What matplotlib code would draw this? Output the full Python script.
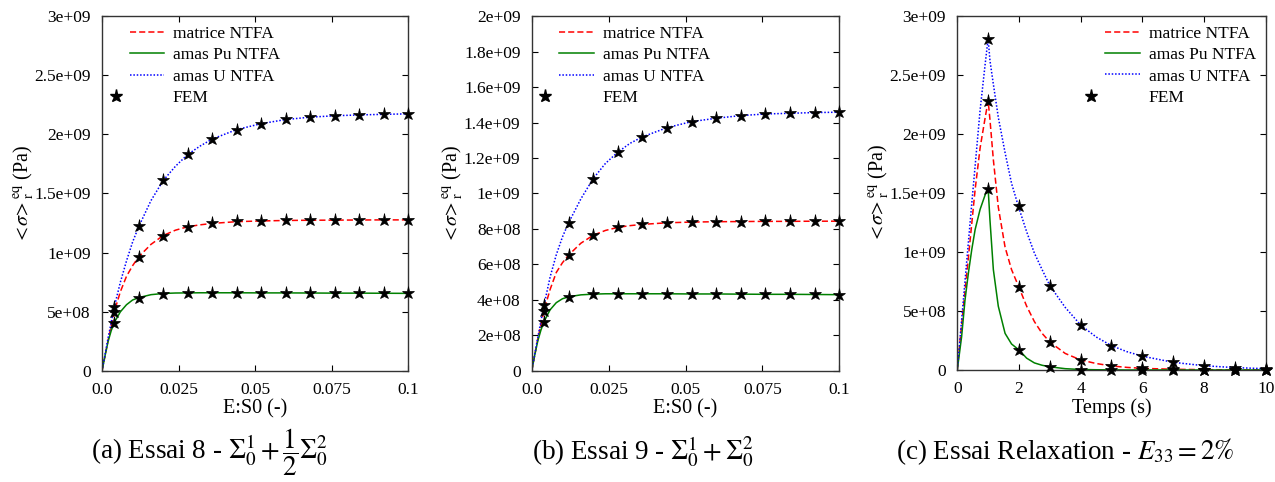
import numpy as np
import matplotlib
matplotlib.use("Agg")
import matplotlib.pyplot as plt
from matplotlib.ticker import FuncFormatter
from matplotlib.legend_handler import HandlerLine2D
from matplotlib.lines import Line2D

plt.rcParams['font.family'] = ['Liberation Serif', 'DejaVu Serif']
plt.rcParams['mathtext.fontset'] = 'stix'

# ---------------- data (values in 1e9 Pa) ----------------
x_line_ab = [0, 0.001, 0.002, 0.003, 0.004, 0.006, 0.008, 0.010, 0.012, 0.016, 0.020, 0.024,
             0.028, 0.032, 0.036, 0.044, 0.052, 0.060, 0.068, 0.076, 0.084, 0.092, 0.100]
x_fem_ab = [0.004, 0.012, 0.020, 0.028, 0.036, 0.044, 0.052, 0.060, 0.068, 0.076, 0.084, 0.092, 0.100]

# Essai 8
a_matrice = [0, 0.13, 0.26, 0.38, 0.50, 0.67, 0.80, 0.89, 0.965, 1.07, 1.145, 1.19, 1.219, 1.235,
             1.247, 1.262, 1.268, 1.272, 1.274, 1.275, 1.276, 1.277, 1.277]
a_pu = [0, 0.13, 0.25, 0.34, 0.41, 0.50, 0.56, 0.60, 0.62, 0.645, 0.655, 0.659, 0.660, 0.661,
        0.661, 0.661, 0.660, 0.660, 0.659, 0.658, 0.658, 0.657, 0.656]
a_u = [0, 0.14, 0.28, 0.41, 0.54, 0.75, 0.93, 1.09, 1.22, 1.44, 1.61, 1.73, 1.83, 1.90, 1.96,
       2.04, 2.09, 2.125, 2.145, 2.157, 2.164, 2.169, 2.173]
a_fem_matrice = [0.50, 0.965, 1.145, 1.219, 1.247, 1.264, 1.270, 1.272, 1.275, 1.276, 1.276, 1.277, 1.277]
a_fem_pu = [0.408, 0.619, 0.653, 0.659, 0.660, 0.660, 0.660, 0.659, 0.659, 0.658, 0.658, 0.657, 0.656]
a_fem_u = [0.543, 1.224, 1.61, 1.832, 1.962, 2.04, 2.091, 2.128, 2.145, 2.156, 2.164, 2.17, 2.173]

# Essai 9
b_matrice = [0, 0.09, 0.18, 0.26, 0.34, 0.46, 0.555, 0.61, 0.653, 0.72, 0.765, 0.792, 0.809, 0.819,
             0.826, 0.835, 0.839, 0.841, 0.842, 0.843, 0.843, 0.844, 0.844]
b_pu = [0, 0.09, 0.17, 0.23, 0.278, 0.345, 0.385, 0.407, 0.418, 0.429, 0.433, 0.435, 0.435, 0.435,
        0.435, 0.435, 0.434, 0.434, 0.433, 0.432, 0.432, 0.431, 0.430]
b_u = [0, 0.095, 0.19, 0.28, 0.37, 0.53, 0.655, 0.755, 0.835, 0.97, 1.084, 1.17, 1.233, 1.283,
       1.319, 1.371, 1.405, 1.424, 1.439, 1.448, 1.452, 1.456, 1.458]
b_fem_matrice = [0.338, 0.653, 0.765, 0.809, 0.826, 0.835, 0.839, 0.841, 0.842, 0.843, 0.843, 0.844, 0.844]
b_fem_pu = [0.278, 0.418, 0.433, 0.435, 0.435, 0.435, 0.435, 0.434, 0.434, 0.433, 0.432, 0.431, 0.430]
b_fem_u = [0.371, 0.835, 1.084, 1.233, 1.319, 1.371, 1.405, 1.424, 1.439, 1.448, 1.452, 1.456, 1.458]

# Relaxation
t_line = [0, 0.14, 0.25, 0.36, 0.47, 0.58, 0.74, 0.9, 1.0, 1.06, 1.17, 1.33, 1.55, 1.76, 2.0,
          2.25, 2.5, 2.75, 3.0, 3.5, 4.0, 4.5, 5.0, 5.5, 6.0, 7.0, 8.0, 9.0, 10.0]
c_pu = [0, 0.28, 0.59, 0.82, 1.02, 1.19, 1.36, 1.48, 1.54, 1.27, 0.85, 0.54, 0.31, 0.22, 0.17,
        0.10, 0.06, 0.04, 0.027, 0.011, 0.004, 0.002, 0.001, 0, 0, 0, 0, 0, 0]
c_matrice = [0, 0.38, 0.66, 0.95, 1.24, 1.53, 1.88, 2.13, 2.28, 2.12, 1.78, 1.38, 1.04, 0.85, 0.70,
             0.54, 0.41, 0.31, 0.237, 0.14, 0.085, 0.055, 0.034, 0.022, 0.014, 0.006, 0.003, 0.001, 0.0005]
c_u = [0, 0.42, 0.75, 1.08, 1.41, 1.73, 2.20, 2.58, 2.806, 2.62, 2.42, 2.14, 1.84, 1.58, 1.37,
       1.17, 0.99, 0.85, 0.715, 0.53, 0.381, 0.28, 0.206, 0.155, 0.117, 0.065, 0.036, 0.020, 0.011]
t_fem = [1, 2, 3, 4, 5, 6, 7, 8, 9, 10]
c_fem_matrice = [2.28, 0.703, 0.237, 0.085, 0.034, 0.014, 0.005, 0.002, 0.001, 0.0]
c_fem_pu = [1.535, 0.172, 0.025, 0.003, 0.0, 0.0, 0.0, 0.0, 0.0, 0.0]
c_fem_u = [2.806, 1.386, 0.714, 0.381, 0.206, 0.117, 0.065, 0.036, 0.020, 0.011]

labels = ["matrice NTFA", "amas Pu NTFA", "amas U NTFA", "FEM"]
xticks_ab = [0, 0.025, 0.05, 0.075, 0.1]
xticklabels_ab = ["0.0", "0.025", "0.05", "0.075", "0.1"]
xticks_c = [0, 2, 4, 6, 8, 10]
captions = [r"(a) Essai 8 - $\Sigma_{0}^{1}+\dfrac{1}{2}\Sigma_{0}^{2}$",
            r"(b) Essai 9 - $\Sigma_{0}^{1}+\Sigma_{0}^{2}$",
            r"(c) Essai Relaxation - $E_{33}=2\%$"]

E9 = 1e9


class ShiftedMarker(HandlerLine2D):
    def create_artists(self, legend, orig_handle, xdescent, ydescent, width, height, fontsize, trans):
        arts = super().create_artists(legend, orig_handle, xdescent, ydescent, width, height, fontsize, trans)
        for a in arts:
            xd = np.asarray(a.get_xdata(), dtype=float)
            a.set_xdata(xd - 0.9 * width)
        return arts


fig = plt.figure(figsize=(12.75, 4.82), dpi=100)
axes = [fig.add_axes([0.0800, 0.2303, 0.2400, 0.7365]),
        fig.add_axes([0.4170, 0.2303, 0.2413, 0.7365]),
        fig.add_axes([0.7508, 0.2324, 0.2419, 0.7350])]

red, green, blue = '#ff0000', '#008000', '#0000ff'

panels = [
    (x_line_ab, a_matrice, a_pu, a_u, x_fem_ab, a_fem_matrice, a_fem_pu, a_fem_u),
    (x_line_ab, b_matrice, b_pu, b_u, x_fem_ab, b_fem_matrice, b_fem_pu, b_fem_u),
    (t_line, c_matrice, c_pu, c_u, t_fem, c_fem_matrice, c_fem_pu, c_fem_u),
]
ymaxes = [3.0, 2.0, 3.0]
ysteps = [0.5, 0.2, 0.5]

for i, (ax, p) in enumerate(zip(axes, panels)):
    xl, m, pu, u, xf, fm, fp, fu = p
    l1, = ax.plot(xl, np.array(m) * E9, color=red, lw=1.1, ls=(0, (4, 2)))
    l2, = ax.plot(xl, np.array(pu) * E9, color=green, lw=1.1, ls='-')
    l3, = ax.plot(xl, np.array(u) * E9, color=blue, lw=1.1, ls=(0, (1, 1.2)))
    for vals in (fm, fp, fu):
        ax.plot(xf, np.array(vals) * E9, ls='none', marker='*', ms=9.5, color='black',
                markeredgewidth=0.5, clip_on=False, zorder=5)
    fh = Line2D([], [], ls='none', marker='*', ms=9.5, color='black')

    ax.set_ylim(0, ymaxes[i] * E9)
    ax.set_yticks(np.arange(0, ymaxes[i] + 1e-9, ysteps[i]) * E9)
    ax.yaxis.set_major_formatter(FuncFormatter(lambda v, pos: "%g" % v))
    if i < 2:
        ax.set_xlim(0, 0.1)
        ax.set_xticks(xticks_ab)
        ax.set_xticklabels(xticklabels_ab)
        ax.set_xlabel("E:S0 (-)", fontsize=14.5, labelpad=1)
        lx = 0.09
    else:
        ax.set_xlim(0, 10)
        ax.set_xticks(xticks_c)
        ax.xaxis.set_major_formatter(FuncFormatter(lambda v, pos: "%g" % v))
        ax.set_xlabel("Temps (s)", fontsize=14.5, labelpad=1)
        lx = 0.48
    ax.set_ylabel(r"$<\!\sigma\!>_{\mathrm{r}}^{\mathrm{eq}}$ (Pa)", fontsize=14.5, labelpad=-1)
    ax.tick_params(direction='in', top=True, right=True, length=4, width=0.8,
                   labelsize=12.5)
    ax.tick_params(axis='y', pad=8)
    ax.tick_params(axis='x', pad=8)
    for s in ax.spines.values():
        s.set_linewidth(1.0)
        s.set_color('#333333')
    ax.legend([l1, l2, l3, fh], labels, loc='upper left', bbox_to_anchor=(lx, 0.972),
              frameon=False, fontsize=12.5, handlelength=2.0, handletextpad=0.5,
              labelspacing=0.30, borderpad=0, borderaxespad=0,
              handler_map={fh: ShiftedMarker()})

cap_x = [209 / 1275, 643 / 1275, 1065 / 1275]
for cx, cap in zip(cap_x, captions):
    fig.text(cx, 1 - 452 / 482, cap, ha='center', va='center', fontsize=19.5)

fig.savefig("out.png", dpi=100)
